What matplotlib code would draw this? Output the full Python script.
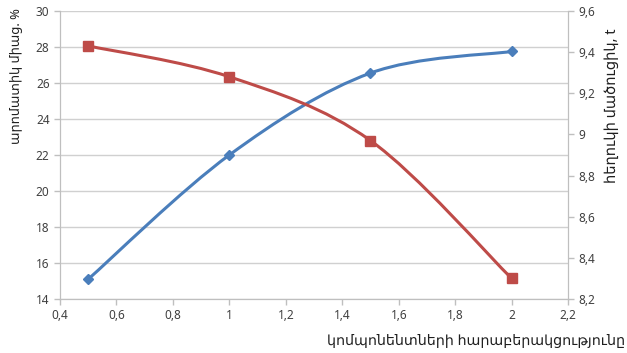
import matplotlib.pyplot as plt
from matplotlib.path import Path
from matplotlib.patches import PathPatch
import numpy as np

plt.rcParams['font.family'] = ['Noto Sans', 'DejaVu Sans']
plt.rcParams['font.size'] = 8.5

# data
ratio = [0.5, 1.0, 1.5, 2.0]
aromatics = [15.1, 22.0, 26.55, 27.75]      # left axis, %
viscosity = [9.43, 9.28, 8.97, 8.30]        # right axis

xlabel = 'կոմպոնենտների հարաբերակցությունը'
ylabel_left = 'արոմատիկ միաց. %'
ylabel_right = 'հեղուկի մածուցիկ, t'

blue = '#4A7EBB'
red = '#BE4B48'
grey = '#BFBFBF'
txt = '#404040'


def smooth_path(x, y):
    # excel-like smoothed line: cubic bezier through the points
    pts = np.column_stack([x, y]).astype(float)
    n = len(pts)
    verts = [pts[0]]
    codes = [Path.MOVETO]
    for i in range(n - 1):
        p0 = pts[max(i - 1, 0)]
        p1 = pts[i]
        p2 = pts[i + 1]
        p3 = pts[min(i + 2, n - 1)]
        c1 = p1 + (p2 - p0) / 6
        c2 = p2 - (p3 - p1) / 6
        verts += [c1, c2, p2]
        codes += [Path.CURVE4] * 3
    return Path(verts, codes)


fig = plt.figure(figsize=(6.27, 3.53), dpi=100)
ax = fig.add_axes([0.0957, 0.153, 0.8103, 0.816])
ax2 = ax.twinx()

ax.add_patch(PathPatch(smooth_path(ratio, aromatics), fill=False, edgecolor=blue, lw=2.2, zorder=3))
ax.plot(ratio, aromatics, ls='none', marker='D', ms=5.5, color=blue, zorder=4)

ax2.add_patch(PathPatch(smooth_path(ratio, viscosity), fill=False, edgecolor=red, lw=2.2, zorder=3))
ax2.plot(ratio, viscosity, ls='none', marker='s', ms=6.5, color=red, zorder=4)

ax.set_xlim(0.4, 2.2)
ax.set_ylim(14, 30)
ax2.set_ylim(8.2, 9.6)
ax.set_xticks(np.arange(0.4, 2.21, 0.2))
ax.set_yticks(np.arange(14, 31, 2))
ax2.set_yticks(np.arange(8.2, 9.61, 0.2))

fmt = lambda v: ('%g' % round(v, 2)).replace('.', ',')
ax.set_xticklabels([fmt(v) for v in ax.get_xticks()])
ax2.set_yticklabels([fmt(v) for v in ax2.get_yticks()])

ax.yaxis.grid(True, color='#D0D0D0', lw=1)
ax.set_axisbelow(True)

for a in (ax, ax2):
    a.spines['top'].set_visible(False)
    for s in ('left', 'right', 'bottom'):
        a.spines[s].set_color(grey)
    a.tick_params(colors=grey, labelcolor=txt, length=4, width=1)

fig.text(0.997, 0.033, xlabel, ha='right', va='center', fontsize=10.3, color='#1F1F1F')
fig.text(0.024, 0.785, ylabel_left, rotation=90, ha='center', va='center', fontsize=9.3, color='#1F1F1F')
fig.text(0.977, 0.70, ylabel_right, rotation=90, ha='center', va='center', fontsize=10.5, color='#1F1F1F')

plt.savefig('out.png', dpi=100)
